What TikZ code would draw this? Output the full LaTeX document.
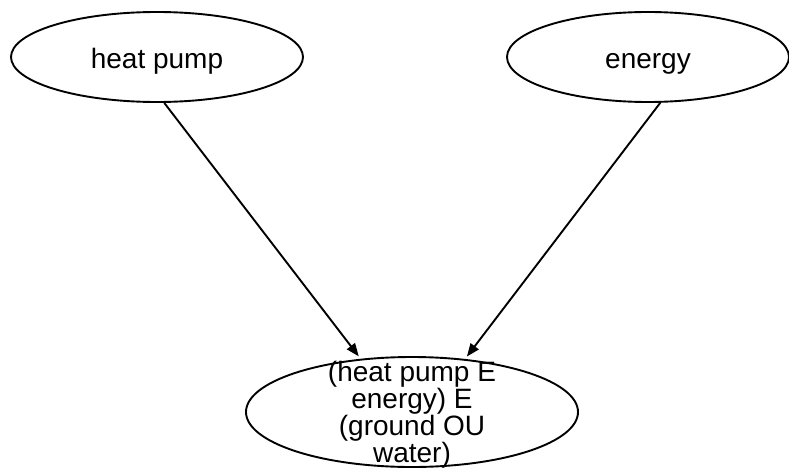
\documentclass[tikz,border=0pt]{standalone}
\usepackage{fontspec}
\setmainfont{Liberation Sans}
\usetikzlibrary{shapes.geometric,arrows.meta}
\begin{document}
\begin{tikzpicture}[x=1pt,y=1pt,
  oval/.style={draw, ellipse, line width=1.9pt, inner sep=0pt},
  txt/.style={font=\fontsize{28}{26}\selectfont, align=center, inner sep=0pt},
  link/.style={line width=1.9pt, -{Triangle[length=13pt,width=10pt]}, shorten >=3pt}]
\useasboundingbox (0,0) rectangle (789,467);
\node[oval, minimum width=292, minimum height=90] (hp) at (157,410) {};
\node[oval, minimum width=282, minimum height=90] (en) at (648,410) {};
\node[oval, minimum width=332, minimum height=110] (bot) at (412,55) {};
\node[txt, anchor=base] (hpt) at (157,398) {heat pump};
\node[txt, anchor=base] (ent) at (648,398) {energy};
\node[txt] (bt) at (412,52.3) {(heat pump E\\energy) E\\(ground OU\\water)};
\draw[link] (hp.-81) -- (bot.134.5);
\draw[link] (en.-75.4) -- (bot.45.5);
\end{tikzpicture}
\end{document}
